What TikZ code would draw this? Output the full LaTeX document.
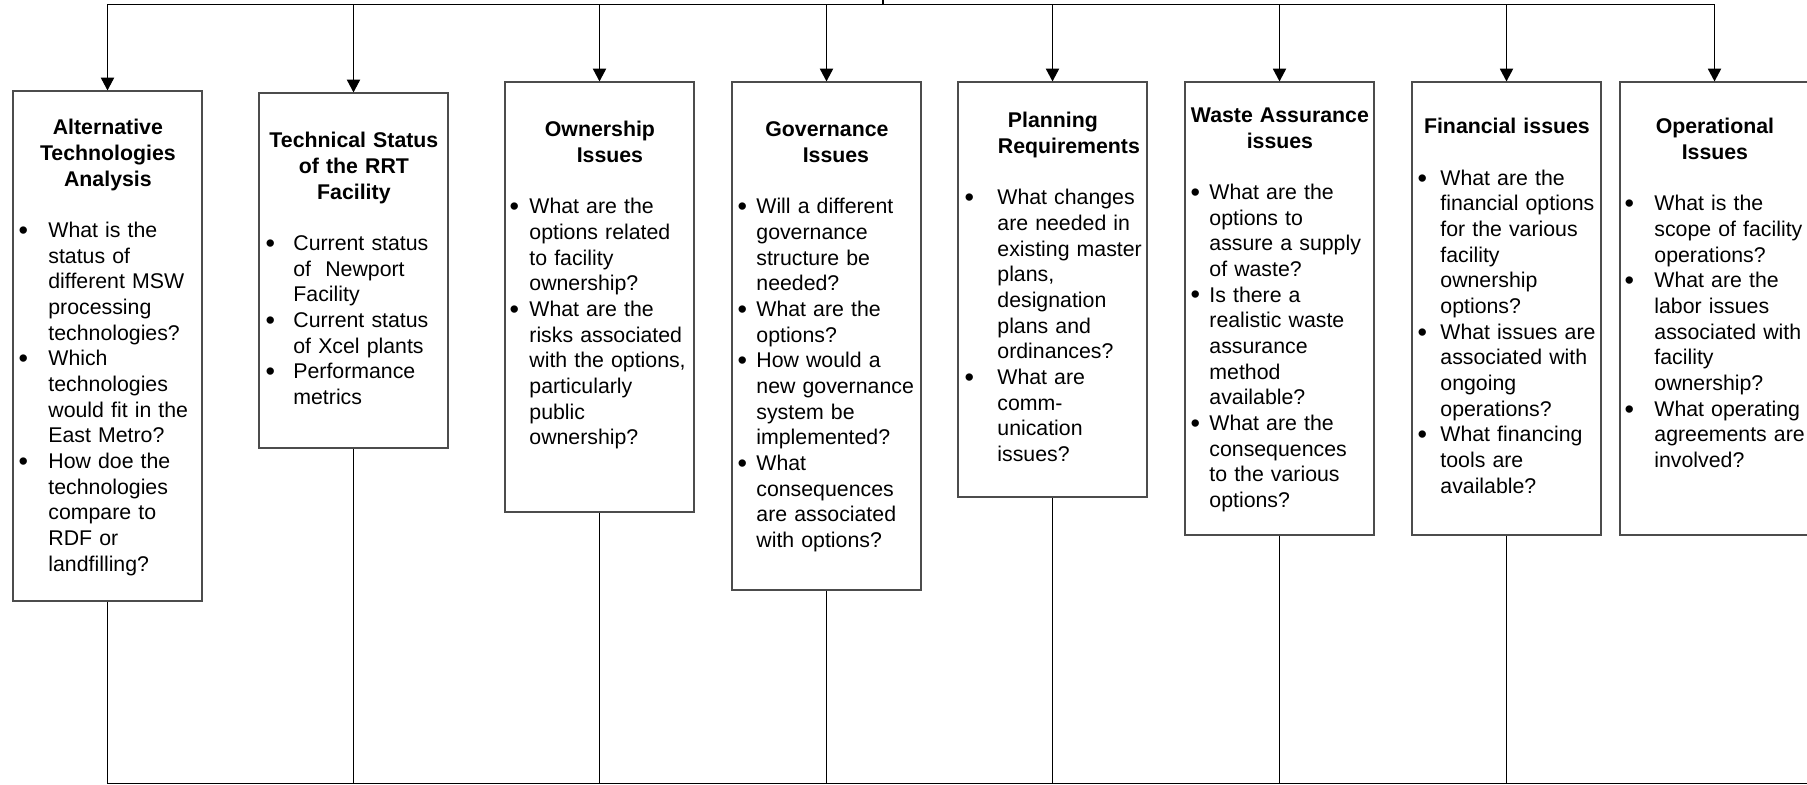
\documentclass[tikz,border=0pt]{standalone}
\usepackage{fontspec}
\setmainfont{Liberation Sans}
\usetikzlibrary{arrows.meta}

\newlength{\bulx}
\newlength{\txtx}
\newcommand{\boxtitle}[1]{\noindent\makebox[94.5pt]{\bfseries #1}\par}
\newcommand{\titlegap}{\vspace{12.83pt}}
\newcommand{\bigdot}{\raisebox{-0.9pt}{\fontsize{13.5}{13.5}\selectfont\textbullet}}
\newcommand{\qitem}{\par\hangindent=\txtx\hangafter=1\noindent\makebox[\txtx][l]{\hspace*{\bulx}\makebox[0pt]{\bigdot}}}

\begin{document}
\begin{tikzpicture}[x=0.5pt, y=-0.5pt,
    qbox/.style={draw=black!70, line width=0.55pt, minimum width=94.5pt, inner sep=0pt},
    qtext/.style={anchor=base west, inner sep=0pt, text width=110pt, font=\fontsize{10.65}{12.83}\selectfont},
    link/.style={line width=0.65pt},
    feed/.style={link, -{Triangle[width=6.6pt, length=6.4pt]}}]
  \useasboundingbox (0,0) rectangle (1807,785);
  % #1 name, #2 left, #3 top, #4 bottom, #5 first baseline, #6 bullet, #7 indent (pt), #8 text
  \newcommand{\issue}[8]{
    \node[qbox, minimum height={(#4-#3)*0.5pt}] (#1) at ({#2+94.5},{(#3+#4)/2}) {};
    \node[qtext] (#1-txt) at (#2,{#3+#5}) {\setlength{\bulx}{#6pt}\setlength{\txtx}{#7pt}#8\par};
  }
  % the eight issue boxes
  \issue{alt}{13}{91}{601}{44}{5}{17.5}{%
    \boxtitle{Alternative}\boxtitle{Technologies}\boxtitle{Analysis}\titlegap
    \qitem What is the\newline status of\newline different MSW\newline processing\newline technologies?
    \qitem Which\newline technologies\newline would fit in the\newline East Metro?
    \qitem How doe the\newline technologies\newline compare to\newline RDF or\newline landfilling?}
  \issue{tech}{259}{93}{448}{55}{5.5}{17}{%
    \boxtitle{Technical Status}\boxtitle{of the RRT}\boxtitle{Facility}\titlegap
    \qitem Current status\newline of\ \ Newport\newline Facility
    \qitem Current status\newline of Xcel plants
    \qitem Performance\newline metrics}
  \issue{own}{505}{82}{512}{55}{4.5}{12}{%
    \boxtitle{Ownership}\boxtitle{\hspace*{10pt}Issues}\titlegap
    \qitem What are the\newline options related\newline to facility\newline ownership?
    \qitem What are the\newline risks associated\newline with the options,\newline particularly\newline public\newline ownership?}
  \issue{gov}{732}{82}{590}{55}{5}{12}{%
    \boxtitle{Governance}\boxtitle{\hspace*{9pt}Issues}\titlegap
    \qitem Will a different\newline governance\newline structure be\newline needed?
    \qitem What are the\newline options?
    \qitem How would a\newline new governance\newline system be\newline implemented?
    \qitem What\newline consequences\newline are associated\newline with options?}
  \issue{plan}{958}{82}{497}{46}{5.5}{19.5}{%
    \boxtitle{Planning}\boxtitle{\hspace*{16pt}Requirements}\titlegap
    \qitem What changes\newline are needed in\newline existing master\newline plans,\newline designation\newline plans and\newline ordinances?
    \qitem What are\newline comm-\newline unication\newline issues?}
  \issue{waste}{1185}{82}{535}{40.5}{5}{12}{%
    \boxtitle{Waste Assurance}\boxtitle{issues}\titlegap
    \qitem What are the\newline options to\newline assure a supply\newline of waste?
    \qitem Is there a\newline realistic waste\newline assurance\newline method\newline available?
    \qitem What are the\newline consequences\newline to the various\newline options?}
  \issue{fin}{1412}{82}{535}{52}{5}{14}{%
    \boxtitle{Financial issues}\titlegap
    \qitem What are the\newline financial options\newline for the various\newline facility\newline ownership\newline options?
    \qitem What issues are\newline associated with\newline ongoing\newline operations?
    \qitem What financing\newline tools are\newline available?}
  \issue{oper}{1620}{82}{535}{52}{4.5}{17}{%
    \boxtitle{Operational}\boxtitle{Issues}\titlegap
    \qitem What is the\newline scope of facility\newline operations?
    \qitem What are the\newline labor issues\newline associated with\newline facility\newline ownership?
    \qitem What operating\newline agreements are\newline involved?}
  % buses
  \coordinate (hub) at (883,4.5);
  \coordinate (feedin) at (883,-10);
  \coordinate (base) at (1830,783.5);
  \draw[link] (feedin) -- (hub);
  \foreach \b in {alt,tech,own,gov,plan,waste,fin,oper}
    \draw[feed] (hub) -| (\b.north);
  \foreach \b in {alt,tech,own,gov,plan,waste,fin}
    \draw[link] (\b.south) |- (base);
\end{tikzpicture}
\end{document}
